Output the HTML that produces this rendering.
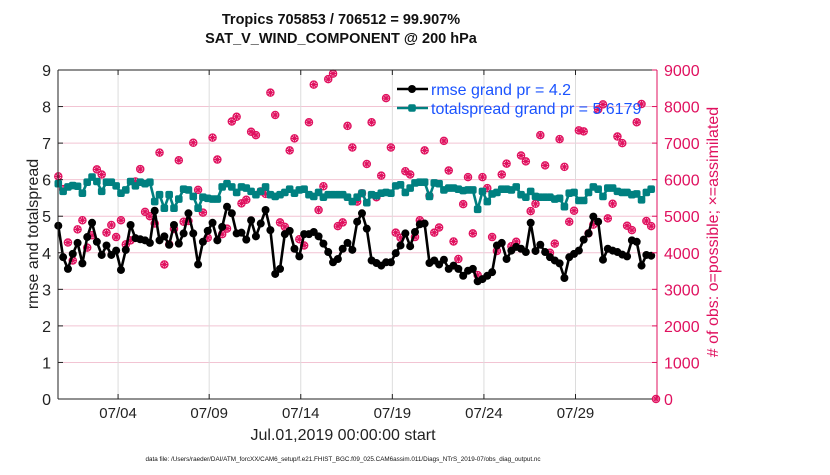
<!DOCTYPE html>
<html><head><meta charset="utf-8"><style>
body{margin:0;background:#fff;font-family:"Liberation Sans",sans-serif}
svg text{font-family:"Liberation Sans",sans-serif}
</style></head><body>
<svg id="chart" width="830" height="470" xmlns="http://www.w3.org/2000/svg">
<g id="grid"></g><g id="marks"></g><g id="axes"></g>
</svg>
<script>
const rmse=[4.74,3.88,3.56,3.97,4.27,3.71,4.43,4.82,4.3,3.94,4.2,3.94,4.06,3.53,4.08,4.76,4.4,4.37,4.34,4.27,5.15,4.34,4.45,4.22,4.76,4.25,4.53,5.08,4.53,3.68,4.3,4.6,4.82,4.34,4.71,5.26,5.08,4.53,4.55,4.36,4.89,4.45,4.8,5.17,
4.62,3.42,3.56,4.51,4.6,4.11,3.9,4.51,4.51,4.57,4.45,4.25,4.02,3.74,3.83,4.11,4.27,4.08,4.85,5.08,4.66,3.79,3.72,3.65,3.74,3.74,3.99,4.2,4.53,4.18,4.57,4.78,4.8,3.72,3.79,3.68,3.81,3.56,3.65,3.56,3.37,
3.51,3.56,3.22,3.28,3.37,3.47,4.2,4.27,3.83,4.06,4.16,4.11,4.02,4.82,4.05,4.22,4.02,3.88,3.79,3.71,3.31,3.88,3.97,4.06,4.36,4.53,4.99,4.85,3.81,4.11,4.06,4.02,3.95,3.9,4.34,4.3,3.65,3.94,3.92,null];
const spread=[5.89,5.68,5.8,5.84,5.82,5.63,5.93,6.07,5.95,5.68,5.93,5.93,5.83,5.63,5.72,5.95,5.83,5.93,5.89,5.93,5.4,5.59,5.22,5.59,5.22,5.47,5.74,5.72,5.54,5.22,5.52,5.49,5.47,5.47,5.8,5.89,5.8,5.65,5.8,5.77,5.68,5.59,5.68,5.8,
5.59,5.54,5.59,5.65,5.74,5.63,5.72,5.74,5.59,5.54,5.65,5.52,5.59,5.59,5.59,5.59,5.52,5.4,5.52,5.63,5.37,5.59,5.56,5.63,5.65,5.63,5.83,5.86,5.65,5.77,5.91,5.93,5.93,5.54,5.91,5.89,5.72,5.77,5.77,5.74,5.7,
5.72,5.72,5.19,5.68,5.4,5.61,5.65,5.74,5.74,5.72,5.8,5.59,5.52,5.68,5.54,5.52,5.52,5.52,5.47,5.49,5.26,5.63,5.65,5.43,5.43,5.65,5.8,5.74,5.54,5.77,5.77,5.68,5.65,5.65,5.59,5.61,5.45,5.65,5.74,null];
const nobs=[6090,5740,4280,3790,4640,4890,4140,4480,6280,6140,4550,4760,4430,4890,4230,4340,5950,6290,5120,5000,4800,6740,3680,4230,4650,6530,4850,4870,7010,5720,5100,4410,7150,6550,4510,4660,7590,7720,5350,5450,7310,7220,5680,5610,
8380,7770,4830,4710,6800,7130,4370,4200,7570,8600,5170,5820,8750,8900,4730,4830,7470,6880,5400,5630,6430,7570,5520,6110,8230,6880,4550,4410,6230,6140,4430,4890,6800,5560,4550,4690,7060,6250,4310,3830,
5330,6070,4530,3390,6070,5770,4430,4050,6140,6440,4180,4300,6660,6500,5140,5340,7220,6390,4000,4250,7110,6350,4850,5150,7350,7320,4530,4770,7920,8060,4940,5340,7180,7000,4740,4620,7570,8070,4870,4730,0];
const xTickLabels=["07/04","07/09","07/14","07/19","07/24","07/29"];
const xTickIndex=[12.4,31.3,50.3,69.3,88.3,107.3];
const yTicks=[0,1,2,3,4,5,6,7,8,9];
const yTicksR=[0,1000,2000,3000,4000,5000,6000,7000,8000,9000];

const L=58,R=657,T=70,B=399;
const N=nobs.length;
const xs=i=>58.3+i*(R-1-58.3)/(N-1);
const yL=v=>B-(v/9)*(B-T);
const yR=v=>B-(v/9000)*(B-T);
const NS="http://www.w3.org/2000/svg";
function mk(tag,parent,attrs){const e=document.createElementNS(NS,tag);for(const k in attrs)e.setAttribute(k,attrs[k]);parent.appendChild(e);return e;}
const grid=document.getElementById('grid'),marks=document.getElementById('marks'),axes=document.getElementById('axes');

mk('rect',grid,{x:L,y:T,width:R-L,height:B-T,fill:'#fff'});
yTicks.forEach(v=>{const l=mk('line',grid,{x1:L,x2:R,y1:yL(v),y2:yL(v),stroke:'#f2c4d3','stroke-width':1});

});
xTickIndex.forEach((ti,k)=>{const x=xs(ti);
const l=mk('line',grid,{x1:x,x2:x,y1:T,y2:B,stroke:'#dcdcdc','stroke-width':1});


const t=mk('text',axes,{x:x,y:418,'font-size':15,'text-anchor':'middle',fill:'#222'});t.textContent=xTickLabels[k];


mk('line',axes,{x1:x,x2:x,y1:B,y2:B-5,stroke:'#222'});mk('line',axes,{x1:x,x2:x,y1:T,y2:T+5,stroke:'#222'});});

nobs.forEach((v,i)=>{const x=xs(i),y=yR(v);
const g=mk('g',marks,{});


mk('circle',g,{cx:x,cy:y,r:3.6,fill:'none',stroke:'#e0115f','stroke-width':1.3});
mk('path',g,{d:`M${x-3.5} ${y}H${x+3.5}M${x} ${y-3.5}V${y+3.5}M${x-2.5} ${y-2.5}L${x+2.5} ${y+2.5}M${x-2.5} ${y+2.5}L${x+2.5} ${y-2.5}`,stroke:'#e0115f','stroke-width':1.2});});

function series(arr,color,name,sq){
 let d='';arr.forEach((v,i)=>{if(v==null)return;d+=(d?'L':'M')+xs(i).toFixed(1)+' '+yL(v).toFixed(1);});
 const p=mk('path',marks,{d:d,fill:'none',stroke:color,'stroke-width':2.6,'stroke-linejoin':'round'});
 
 
 arr.forEach((v,i)=>{if(v==null)return;const x=xs(i),y=yL(v);
  const m=sq?mk('rect',marks,{x:x-3.8,y:y-3.8,width:7.6,height:7.6,rx:2,fill:color}):mk('circle',marks,{cx:x,cy:y,r:4,fill:color});
  
  });
}
series(spread,'#008080','totalspread',true);
series(rmse,'#000','rmse',false);

mk('line',axes,{x1:L,x2:R,y1:T,y2:T,stroke:'#222'});
mk('line',axes,{x1:L,x2:R,y1:B,y2:B,stroke:'#222'});
mk('line',axes,{x1:L,x2:L,y1:T,y2:B,stroke:'#222'});
mk('line',axes,{x1:R,x2:R,y1:T,y2:B,stroke:'#e0115f'});
yTicks.forEach(v=>{const y=yL(v);mk('line',axes,{x1:L,x2:L+5,y1:y,y2:y,stroke:'#222'});
const t=mk('text',axes,{x:51,y:y+6,'font-size':16,'text-anchor':'end',fill:'#222'});t.textContent=v;

});
yTicksR.forEach(v=>{const y=yR(v);mk('line',axes,{x1:R-5,x2:R,y1:y,y2:y,stroke:'#e0115f'});
const t=mk('text',axes,{x:664,y:y+6,'font-size':16,'text-anchor':'start',fill:'#e0115f'});t.textContent=v;

});
</script>
<svg style="position:absolute;left:0;top:0" width="830" height="470">
<text x="341" y="24" font-size="14.5" font-weight="bold" text-anchor="middle" fill="#111" font-family="Liberation Sans">Tropics 705853 / 706512 = 99.907%</text>
<text x="341" y="43" font-size="14.5" font-weight="bold" text-anchor="middle" fill="#111" font-family="Liberation Sans">SAT_V_WIND_COMPONENT @ 200 hPa</text>
<text transform="translate(38,234) rotate(-90)" font-size="16" text-anchor="middle" fill="#222" font-family="Liberation Sans">rmse and totalspread</text>
<text transform="translate(718,232) rotate(-90)" font-size="16" text-anchor="middle" fill="#e0115f" font-family="Liberation Sans"># of obs: o=possible; ×=assimilated</text>
<text x="343" y="440" font-size="16" text-anchor="middle" fill="#222" font-family="Liberation Sans">Jul.01,2019 00:00:00 start</text>
<text x="343" y="461" font-size="6.3" text-anchor="middle" fill="#111" font-family="Liberation Sans">data file: /Users/raeder/DAI/ATM_forcXX/CAM6_setup/f.e21.FHIST_BGC.f09_025.CAM6assim.011/Diags_NTrS_2019-07/obs_diag_output.nc</text>
<g>
<line x1="397" x2="428" y1="89" y2="89" stroke="#000" stroke-width="2.6"/><circle cx="412" cy="89" r="4" fill="#000"/>
<text x="431" y="95" font-size="16" fill="#1a53ff" font-family="Liberation Sans">rmse grand pr = 4.2</text>
<line x1="397" x2="428" y1="108" y2="108" stroke="#008080" stroke-width="2.6"/><rect x="408.2" y="104.2" width="7.6" height="7.6" rx="2" fill="#008080"/>
<text x="431" y="114" font-size="16" fill="#1a53ff" font-family="Liberation Sans">totalspread grand pr = 5.6179</text>
</g>
</svg>
</body></html>
